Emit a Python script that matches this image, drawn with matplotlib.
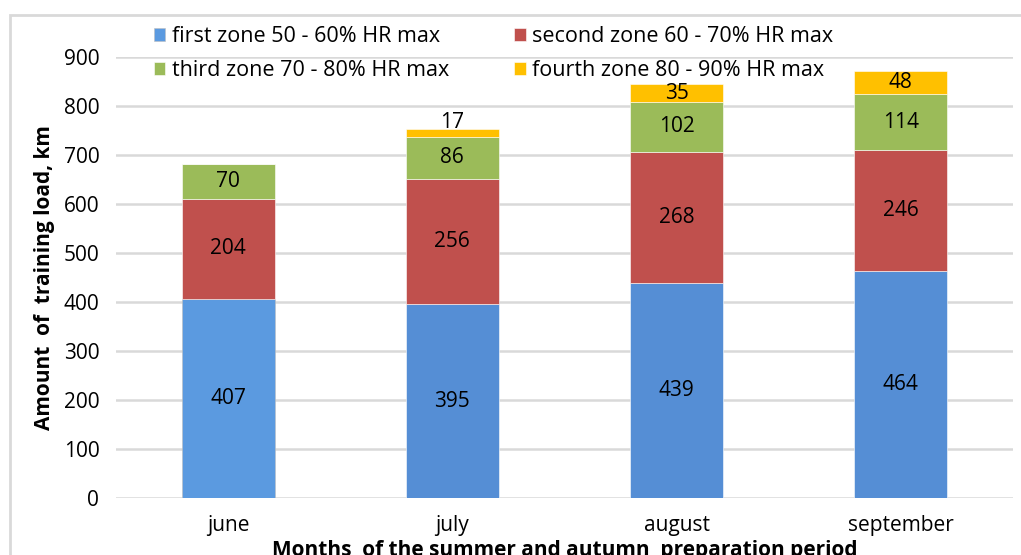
import matplotlib.pyplot as plt
from matplotlib.patches import Rectangle

months = ["june", "july", "august", "september"]
zone1 = [407, 395, 439, 464]
zone2 = [204, 256, 268, 246]
zone3 = [70, 86, 102, 114]
zone4 = [0, 17, 35, 48]
labels = ["first zone 50 - 60% HR max", "second zone 60 - 70% HR max",
          "third zone 70 - 80% HR max", "fourth zone 80 - 90% HR max"]
colors = ["#558ED5", "#C0504D", "#9BBB59", "#FFC000"]

plt.rcParams["font.family"] = ["Open Sans", "DejaVu Sans"]

fig = plt.figure(figsize=(10.21, 5.55), dpi=100)
ax = fig.add_axes([0.1136, 0.1027, 0.8784, 0.7946])

# outer frame like the excel chart area
fig.patches.append(Rectangle((10 / 1021, -0.1), 1.2, (555 - 15) / 555 + 0.1,
                             transform=fig.transFigure, fill=False,
                             edgecolor="#d9d9d9", linewidth=2, zorder=0))

x = range(len(months))
bottom = [0, 0, 0, 0]
series = [zone1, zone2, zone3, zone4]
handles = []
for i, (vals, lbl, col) in enumerate(zip(series, labels, colors)):
    bars = ax.bar(x, vals, width=0.415, bottom=bottom, color=col, label=lbl,
                  edgecolor="white", linewidth=0.4, zorder=3)
    handles.append(bars)
    for b, v, bt in zip(bars, vals, bottom):
        if v == 0:
            continue
        y = bt + v / 2
        if i == 3 and v < 20:
            y = bt + v + 12
        ax.text(b.get_x() + b.get_width() / 2, y, str(v), ha="center",
                va="center", fontsize=15, color="black", zorder=4)
    bottom = [a + b for a, b in zip(bottom, vals)]

# june's first-zone bar is a slightly lighter blue in the original
handles[0][0].set_facecolor("#5B9AE0")
handles[0][0].set_edgecolor("#bfbfbf")

ax.set_xlim(-0.5, 3.5)
ax.set_ylim(0, 900)
ax.set_yticks(range(0, 1000, 100))
ax.set_xticks(list(x))
ax.set_xticklabels(months)
ax.tick_params(axis="both", length=0, labelsize=15, pad=12)
ax.tick_params(axis="x", pad=12)
ax.yaxis.grid(True, color="#d9d9d9", linewidth=1.8, zorder=0)
for s in ax.spines.values():
    s.set_visible(False)

ax.set_ylabel("Amount  of  training load, km", fontsize=15, fontweight="bold",
              labelpad=6)
ax.set_xlabel("Months  of the summer and autumn  preparation period",
              fontsize=15, fontweight="bold", labelpad=3)

order = [0, 2, 1, 3]
ax.legend([handles[k] for k in order], [labels[k] for k in order],
          loc="upper left", bbox_to_anchor=(0.03, 1.095), ncol=2, frameon=False,
          fontsize=15.5, handlelength=0.55, handleheight=0.55, handletextpad=0.3,
          columnspacing=3.0, labelspacing=0.6, borderpad=0)

fig.savefig("out.png", dpi=100)
